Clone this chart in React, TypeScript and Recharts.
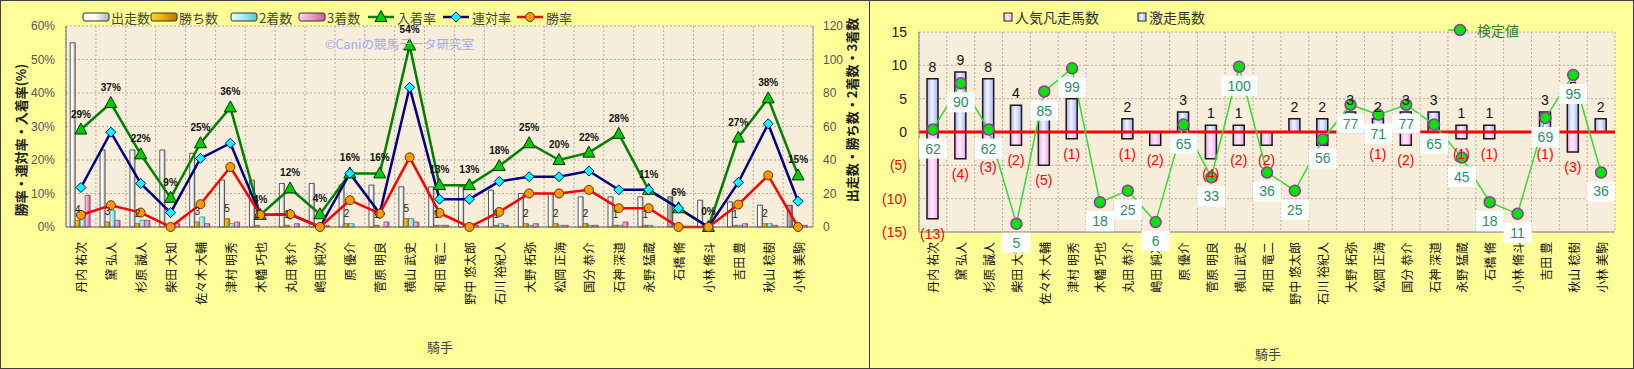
import React from 'react';
import {
  ComposedChart, Bar, Line, XAxis, YAxis, CartesianGrid, LabelList, ReferenceLine, Cell,
} from 'recharts';

// 騎手
const jockeys = [
  '丹内 祐次', '黛 弘人', '杉原 誠人', '柴田 大知', '佐々木 大輔', '津村 明秀', '木幡 巧也',
  '丸田 恭介', '嶋田 純次', '原 優介', '菅原 明良', '横山 武史', '和田 竜二', '野中 悠太郎',
  '石川 裕紀人', '大野 拓弥', '松岡 正海', '国分 恭介', '石神 深道', '永野 猛蔵', '石橋 脩',
  '小林 脩斗', '吉田 豊', '秋山 稔樹', '小林 美駒',
];
const greyStartJockeys = ['石橋 脩', '小林 美駒'];

// left chart: counts
const starts = [110, 46, 46, 46, 44, 28, 28, 26, 26, 25, 25, 24, 24, 24, 22, 20, 20, 18, 18, 18, 18, 16, 15, 13, 13];
const wins = [4, 3, 2, 0, 3, 5, 1, 1, 0, 2, 1, 5, 1, 0, 1, 2, 2, 2, 1, 1, 0, 0, 1, 2, 0];
const seconds = [9, 10, 4, 2, 6, 2, 0, 0, 0, 2, 0, 5, 1, 2, 2, 1, 1, 1, 1, 1, 1, 0, 1, 2, 1];
const thirds = [19, 4, 4, 2, 2, 3, 0, 2, 1, 0, 3, 3, 1, 1, 1, 2, 1, 1, 3, 0, 0, 0, 2, 1, 1];

// left chart: rates (%)
const placeRate = [29.1, 37.0, 21.7, 8.7, 25.0, 35.7, 3.6, 11.5, 3.8, 16.0, 16.0, 54.2, 12.5, 12.5, 18.2, 25.0, 20.0, 22.2, 27.8, 11.1, 5.6, 0, 26.7, 38.4, 15.4];
const rentaiRate = [11.8, 28.3, 13.0, 4.3, 20.5, 25.0, 3.6, 3.8, 0, 16.0, 4.0, 41.7, 8.3, 8.3, 13.6, 15.0, 15.0, 16.7, 11.1, 11.1, 5.6, 0, 13.3, 30.8, 7.7];
const winRate = [3.6, 6.5, 4.3, 0, 6.8, 17.9, 3.6, 3.8, 0, 8.0, 4.0, 20.8, 4.2, 0, 4.5, 10.0, 10.0, 11.1, 5.6, 5.6, 0, 0, 6.7, 15.4, 0];

// right chart
const upsetCounts = [8, 9, 8, 4, 2, 5, 0, 2, 0, 3, 1, 1, 0, 2, 2, 3, 2, 3, 3, 1, 1, 0, 3, 5, 2]; // 激走馬数
const flopCounts = [13, 4, 3, 2, 5, 1, 0, 1, 2, 0, 4, 2, 2, 0, 2, 0, 1, 2, 0, 1, 1, 0, 1, 3, 0]; // 人気凡走馬数
const testScores = [62, 90, 62, 5, 85, 99, 18, 25, 6, 65, 33, 100, 36, 25, 56, 77, 71, 77, 65, 45, 18, 11, 69, 95, 36]; // 検定値

const rateTicks = [0, 10, 20, 30, 40, 50, 60];
const countTicks = [0, 20, 40, 60, 80, 100, 120];
const signedTicks = [-15, -10, -5, 0, 5, 10, 15];

const leftData = jockeys.map((name, i) => ({
  name,
  starts: starts[i],
  wins: wins[i],
  seconds: seconds[i],
  thirds: thirds[i],
  placeRate: placeRate[i],
  rentaiRate: rentaiRate[i],
  winRate: winRate[i],
}));

const rightData = jockeys.map((name, i) => ({
  name,
  upset: upsetCounts[i],
  flop: -flopCounts[i],
  flopCount: flopCounts[i],
  score: testScores[i],
}));

const CJK = '"Noto Sans CJK JP", sans-serif';
const LATIN = '"Liberation Sans", Arial, sans-serif';

// grid lines sit on category boundaries, not on tick centres
const boundaryLines = ({ offset }: any) =>
  Array.from({ length: jockeys.length + 1 }, (_, k) => offset.left + (offset.width * k) / jockeys.length);

const NameTick = ({ x, y, payload, shift }: any) => (
  <text
    x={x}
    y={y + shift}
    transform={`rotate(-90, ${x}, ${y + shift})`}
    textAnchor="end"
    dominantBaseline="central"
    fontSize={12}
    fontFamily={CJK}
    fill="#111"
  >
    {payload.value}
  </text>
);

const SignedTick = ({ x, y, payload }: any) => {
  const v = payload.value;
  return (
    <text x={x} y={y} textAnchor="end" dominantBaseline="central" fontSize={14} fontFamily={LATIN} fill={v < 0 ? '#FF0000' : '#222'}>
      {v < 0 ? `(${-v})` : v}
    </text>
  );
};

const TriDot = ({ cx, cy, index }: any) => (
  <polygon key={index} points={`${cx},${cy - 6.5} ${cx - 6},${cy + 4.5} ${cx + 6},${cy + 4.5}`} fill="#00CC00" stroke="#003300" strokeWidth={1} />
);
const DiamondDot = ({ cx, cy, index }: any) => (
  <polygon key={index} points={`${cx},${cy - 5} ${cx + 5},${cy} ${cx},${cy + 5} ${cx - 5},${cy}`} fill="#00FFFF" stroke="#000080" strokeWidth={1} />
);
const OrangeDot = ({ cx, cy, index }: any) => (
  <circle key={index} cx={cx} cy={cy} r={4.5} fill="#FF9900" stroke="#663300" strokeWidth={1} />
);
const ScoreDot = ({ cx, cy, index }: any) => (
  <circle key={index} cx={cx} cy={cy} r={5.5} fill="#00E600" stroke="#9933AA" strokeWidth={1.5} />
);

const PctLabel = (p: any) => (
  <text x={p.x} y={p.y - 12} textAnchor="middle" fontSize={10} fontWeight="bold" fontFamily={LATIN} fill="#111">
    {Math.round(p.value)}%
  </text>
);

const WinLabel = (p: any) =>
  p.value > 0 ? (
    <text x={p.x + p.width / 2} y={p.y - 7} textAnchor="middle" fontSize={10} fontFamily={LATIN} fill="#222">
      {p.value}
    </text>
  ) : <g />;

const UpLabel = (p: any) =>
  p.value > 0 ? (
    <text x={p.x + p.width / 2} y={p.y - 7} textAnchor="middle" fontSize={14} fontFamily={LATIN} fill="#111">
      {p.value}
    </text>
  ) : <g />;

const DownLabel = (p: any) => {
  if (!(p.value > 0)) return <g />;
  const bottom = Math.max(p.y, p.y + p.height);
  return (
    <text x={p.x + p.width / 2} y={bottom + 20} textAnchor="middle" fontSize={14} fontFamily={LATIN} fill="#FF0000">
      ({p.value})
    </text>
  );
};

const ScoreLabel = (p: any) => {
  const w = String(p.value).length > 2 ? 36 : 28;
  return (
    <g>
      <rect x={p.x - w / 2} y={p.y + 9} width={w} height={20} fill="#FFFFFF" />
      <text x={p.x} y={p.y + 19} textAnchor="middle" dominantBaseline="central" fontSize={14} fontFamily={LATIN} fill="#2E8B6E">
        {p.value}
      </text>
    </g>
  );
};

const Grad = ({ id, from, mid, to }: any) => (
  <linearGradient id={id} x1="0" y1="0" x2="1" y2="0">
    <stop offset="0%" stopColor={from} />
    <stop offset="45%" stopColor={mid} />
    <stop offset="100%" stopColor={to} />
  </linearGradient>
);

const gradDefs = (
  <defs>
    <Grad id="gStart" from="#F4F4F4" mid="#FFFFFF" to="#B0B0B0" />
    <Grad id="gGrey" from="#C8C8C8" mid="#A8A8A8" to="#707070" />
    <Grad id="gWin" from="#FFD24A" mid="#F0B000" to="#B07800" />
    <Grad id="gSecond" from="#D8FFFF" mid="#A8F0F8" to="#60C0D0" />
    <Grad id="gThird" from="#FFD0EC" mid="#F0A0D0" to="#C06098" />
    <Grad id="gUp" from="#A0AEFF" mid="#F4F6FF" to="#A0AEFF" />
    <Grad id="gDown" from="#FF9EF0" mid="#FFF2FF" to="#FF9EF0" />
  </defs>
);

const LegendBar = ({ x, y, fill, label }: any) => (
  <g>
    <rect x={x} y={y - 4} width={26} height={8} rx={2} fill={fill} stroke="#333" strokeWidth={1} />
    <text x={x + 28} y={y} dominantBaseline="central" fontSize={13} fontFamily={CJK} fill="#444">{label}</text>
  </g>
);

const LegendLine = ({ x, y, stroke, marker, label, color = '#444' }: any) => (
  <g>
    <line x1={x} y1={y} x2={x + 26} y2={y} stroke={stroke} strokeWidth={2.5} />
    {marker(x + 13, y)}
    <text x={x + 29} y={y} dominantBaseline="central" fontSize={13} fontFamily={CJK} fill={color}>{label}</text>
  </g>
);

function LeftPanel() {
  return (
    <div style={{ position: 'absolute', left: 0, top: 0, width: 870, height: 369, background: '#FFFF99', boxSizing: 'border-box', border: '1px solid #404040' }}>
      <div style={{ position: 'absolute', left: -1, top: -1 }}>
        <ComposedChart width={870} height={369} data={leftData} margin={{ top: 26, right: 0, bottom: 0, left: 26 }} barCategoryGap="14%" barGap={0}>
          {gradDefs}
          <CartesianGrid yAxisId="rate" fill="#F6EDDA" stroke="#B5AD9C" strokeDasharray="2 2" verticalCoordinatesGenerator={boundaryLines} />
          <XAxis dataKey="name" height={142} interval={0} tickLine={false} axisLine={{ stroke: '#666' }} tick={<NameTick shift={7} />} />
          <YAxis
            yAxisId="rate"
            domain={[0, 60]}
            ticks={rateTicks}
            width={40}
            tickLine={false}
            tickMargin={5}
            axisLine={{ stroke: '#666' }}
            tickFormatter={(v: number) => `${v}%`}
            tick={{ fontSize: 12, fill: '#555', fontFamily: LATIN }}
          />
          <YAxis
            yAxisId="count"
            orientation="right"
            domain={[0, 120]}
            ticks={countTicks}
            width={57}
            tickLine={false}
            tickMargin={4}
            axisLine={{ stroke: '#999' }}
            tick={{ fontSize: 12, fill: '#555', fontFamily: LATIN, textAnchor: 'start' }}
          />
          <Bar yAxisId="count" dataKey="starts" fill="url(#gStart)" stroke="#333" strokeWidth={0.8} isAnimationActive={false}>
            {leftData.map((d) => (
              <Cell key={d.name} fill={greyStartJockeys.includes(d.name) ? 'url(#gGrey)' : 'url(#gStart)'} />
            ))}
          </Bar>
          <Bar yAxisId="count" dataKey="wins" fill="url(#gWin)" stroke="#5A3A00" strokeWidth={0.6} isAnimationActive={false}>
            <LabelList dataKey="wins" content={WinLabel} />
          </Bar>
          <Bar yAxisId="count" dataKey="seconds" fill="url(#gSecond)" stroke="#2A6070" strokeWidth={0.6} isAnimationActive={false} />
          <Bar yAxisId="count" dataKey="thirds" fill="url(#gThird)" stroke="#6A2050" strokeWidth={0.6} isAnimationActive={false} />
          <Line yAxisId="rate" dataKey="placeRate" stroke="#008000" strokeWidth={2.5} dot={TriDot} activeDot={false} isAnimationActive={false}>
            <LabelList dataKey="placeRate" content={PctLabel} />
          </Line>
          <Line yAxisId="rate" dataKey="rentaiRate" stroke="#000080" strokeWidth={2.5} dot={DiamondDot} activeDot={false} isAnimationActive={false} />
          <Line yAxisId="rate" dataKey="winRate" stroke="#FF0000" strokeWidth={2.5} dot={OrangeDot} activeDot={false} isAnimationActive={false} />
        </ComposedChart>
      </div>
      <svg width={870} height={369} style={{ position: 'absolute', left: -1, top: -1, pointerEvents: 'none' }}>
        {gradDefs}
        <LegendBar x={83} y={17} fill="url(#gStart)" label="出走数" />
        <LegendBar x={151} y={17} fill="url(#gWin)" label="勝ち数" />
        <LegendBar x={231} y={17} fill="url(#gSecond)" label="2着数" />
        <LegendBar x={299} y={17} fill="url(#gThird)" label="3着数" />
        <LegendLine x={368} y={17} stroke="#008000" label="入着率" marker={(cx: number, cy: number) => <TriDot cx={cx} cy={cy} />} />
        <LegendLine x={443} y={17} stroke="#000080" label="連対率" marker={(cx: number, cy: number) => <DiamondDot cx={cx} cy={cy} />} />
        <LegendLine x={517} y={17} stroke="#FF0000" label="勝率" marker={(cx: number, cy: number) => <OrangeDot cx={cx} cy={cy} />} />
        <text x={325} y={43} dominantBaseline="central" fontSize={12.5} fontFamily={CJK} fill="#A4A8F0">©Caniの競馬データ研究室</text>
        <text x={20} y={140} transform="rotate(-90, 20, 140)" textAnchor="middle" dominantBaseline="central" fontSize={13} fontWeight="bold" fontFamily={CJK} fill="#222">勝率・連対率・入着率(%)</text>
        <text x={851} y={110} transform="rotate(-90, 851, 110)" textAnchor="middle" dominantBaseline="central" fontSize={13} fontWeight="bold" fontFamily={CJK} fill="#222">出走数・勝ち数・2着数・3着数</text>
        <text x={440} y={346} textAnchor="middle" dominantBaseline="central" fontSize={13} fontFamily={CJK} fill="#444">騎手</text>
      </svg>
    </div>
  );
}

function RightPanel() {
  return (
    <div style={{ position: 'absolute', left: 869, top: 0, width: 765, height: 369, background: '#FFFF99', boxSizing: 'border-box', border: '1px solid #404040' }}>
      <div style={{ position: 'absolute', left: 0, top: -1 }}>
        <ComposedChart width={764} height={369} data={rightData} margin={{ top: 32, right: 19, bottom: 0, left: 0 }} stackOffset="sign">
          {gradDefs}
          <CartesianGrid yAxisId="count" fill="#F6EDDA" stroke="#B5AD9C" strokeDasharray="2 2" verticalCoordinatesGenerator={boundaryLines} />
          <XAxis dataKey="name" height={137} interval={0} tickLine={false} axisLine={{ stroke: '#888' }} tick={<NameTick shift={2} />} />
          <XAxis xAxisId="frame" dataKey="name" orientation="top" height={0} tick={false} tickLine={false} axisLine={{ stroke: '#888' }} />
          <YAxis yAxisId="count" domain={[-15, 15]} ticks={signedTicks} width={49} tickLine={false} tickMargin={6} axisLine={{ stroke: '#888' }} tick={<SignedTick />} />
          <YAxis yAxisId="frame" orientation="right" width={0} tick={false} tickLine={false} axisLine={{ stroke: '#888' }} />
          <YAxis yAxisId="score" domain={[0, 121]} hide />
          <Bar yAxisId="count" dataKey="upset" stackId="s" barSize={11} fill="url(#gUp)" stroke="#1A1A1A" strokeWidth={1.5} isAnimationActive={false}>
            <LabelList dataKey="upset" content={UpLabel} />
          </Bar>
          <Bar yAxisId="count" dataKey="flop" stackId="s" barSize={11} fill="url(#gDown)" stroke="#1A1A1A" strokeWidth={1.5} isAnimationActive={false}>
            <LabelList dataKey="flopCount" content={DownLabel} />
          </Bar>
          <ReferenceLine yAxisId="count" y={0} stroke="#FF0000" strokeWidth={3} />
          <Line yAxisId="score" dataKey="score" stroke="#33DD33" strokeWidth={1.5} dot={ScoreDot} activeDot={false} isAnimationActive={false}>
            <LabelList dataKey="score" content={ScoreLabel} />
          </Line>
        </ComposedChart>
      </div>
      <svg width={765} height={369} style={{ position: 'absolute', left: 0, top: -1, pointerEvents: 'none' }}>
        {gradDefs}
        <rect x={134} y={13} width={8} height={8} fill="url(#gDown)" stroke="#222" strokeWidth={1} />
        <text x={145} y={17} dominantBaseline="central" fontSize={14} fontFamily={CJK} fill="#333">人気凡走馬数</text>
        <rect x={268} y={13} width={8} height={8} fill="url(#gUp)" stroke="#222" strokeWidth={1} />
        <text x={279} y={17} dominantBaseline="central" fontSize={14} fontFamily={CJK} fill="#333">激走馬数</text>
        <line x1={578} y1={30} x2={598} y2={30} stroke="#33DD33" strokeWidth={1.5} />
        <ScoreDot cx={590} cy={30} />
        <text x={607} y={30} dominantBaseline="central" fontSize={14} fontFamily={CJK} fill="#2E7D32">検定値</text>
        <text x={398} y={353} textAnchor="middle" dominantBaseline="central" fontSize={13} fontFamily={CJK} fill="#444">騎手</text>
      </svg>
    </div>
  );
}

export default function App() {
  return (
    <div style={{ position: 'absolute', left: 0, top: 0, width: 1634, height: 369, overflow: 'hidden', background: '#FFFF99' }}>
      <LeftPanel />
      <RightPanel />
    </div>
  );
}
